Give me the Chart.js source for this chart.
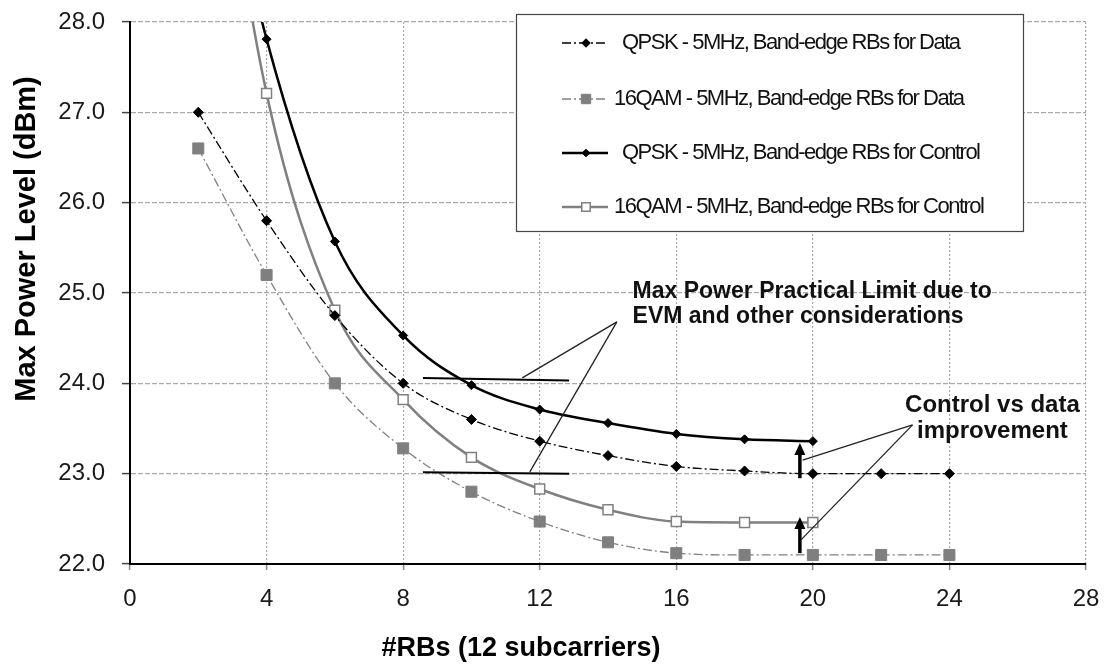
<!DOCTYPE html>
<html><head><meta charset="utf-8">
<script src="https://cdn.jsdelivr.net/npm/chart.js@4.4.1/dist/chart.umd.min.js"></script>
<style>html,body{margin:0;padding:0;background:#fff;}#wrap{width:1104px;height:668px;}</style>
</head><body><div id="wrap"><canvas id="c" width="1104" height="668"></canvas></div>
<script>
// ---- data ----
const rbs = [2, 4, 6, 8, 10, 12, 14, 16, 18, 20, 22, 24];
const qpskData = [27.0, 25.8, 24.75, 24.0, 23.6, 23.36, 23.2, 23.08, 23.03, 23.0, 23.0, 23.0];
const qam16Data = [26.6, 25.2, 24.0, 23.28, 22.8, 22.47, 22.24, 22.12, 22.1, 22.1, 22.1, 22.1];
const qpskControl = [31.2, 27.81, 25.57, 24.53, 23.98, 23.71, 23.56, 23.44, 23.38, 23.36, null, null];
const qam16Control = [31.8, 27.21, 24.81, 23.82, 23.18, 22.83, 22.6, 22.47, 22.46, 22.46, null, null];
const seriesLabels = [
  'QPSK - 5MHz, Band-edge RBs for Data',
  '16QAM - 5MHz, Band-edge RBs for Data',
  'QPSK - 5MHz, Band-edge RBs for Control',
  '16QAM - 5MHz, Band-edge RBs for Control'
];
const xTicks = [0, 4, 8, 12, 16, 20, 24, 28];
const yTicks = [22, 23, 24, 25, 26, 27, 28];
const xTitle = '#RBs (12 subcarriers)';
const yTitle = 'Max Power Level (dBm)';
const noteLimit = ['Max Power Practical Limit due to', 'EVM and other considerations'];
const noteImprove = ['Control vs data', 'improvement'];
// annotation geometry in data units
const limitLines = [[8.58, 24.06, 12.86, 24.03], [8.58, 23.015, 12.86, 23.0]];
const limitPointer = {apex: [14.26, 24.68], ends: [[11.49, 24.06], [11.71, 23.02]]};
const improvePointer = {apex: [22.92, 23.54], ends: [[19.70, 23.15], [19.66, 22.27]]};
const improveArrows = [[19.62, 22.95, 23.34], [19.62, 22.12, 22.52]];
const limitTextAt = [[14.72, 25.01], [14.72, 24.74]];
const improveTextAt = [[25.26, 23.76], [25.26, 23.465]];

const pts = arr => rbs.map((x, i) => ({x, y: arr[i]}));
const DASHDOT = [9, 3, 2, 3];

const datasets = [
  {label: seriesLabels[0], data: pts(qpskData), borderColor: '#000', backgroundColor: '#000',
   borderWidth: 1.3, borderDash: DASHDOT, pointStyle: 'rectRot', pointRadius: 5, pointBorderWidth: 1,
   pointBackgroundColor: '#000', pointBorderColor: '#000'},
  {label: seriesLabels[1], data: pts(qam16Data), borderColor: '#808080', backgroundColor: '#7f7f7f',
   borderWidth: 1.3, borderDash: DASHDOT, pointStyle: 'rect', pointRadius: 7.8, pointBorderWidth: 1,
   pointBackgroundColor: '#7f7f7f', pointBorderColor: '#7f7f7f'},
  {label: seriesLabels[2], data: pts(qpskControl), borderColor: '#000', backgroundColor: '#000',
   borderWidth: 2.5, pointStyle: 'rectRot', pointRadius: 4.5, pointBorderWidth: 1,
   pointBackgroundColor: '#000', pointBorderColor: '#000'},
  {label: seriesLabels[3], data: pts(qam16Control), borderColor: '#808080', backgroundColor: '#fff',
   borderWidth: 2.5, pointStyle: 'rect', pointRadius: 7, pointBorderWidth: 1.5,
   pointBackgroundColor: '#fff', pointBorderColor: '#808080'}
];
datasets.forEach(d => { d.cubicInterpolationMode = 'monotone'; d.fill = false; d.spanGaps = false; });

const FONT = '"Liberation Sans", Arial, sans-serif';

const extras = {
  id: 'extras',
  afterDatasetsDraw(chart) {
    const ctx = chart.ctx, xs = chart.scales.x, ys = chart.scales.y;
    const px = v => xs.getPixelForValue(v), py = v => ys.getPixelForValue(v);
    ctx.save();
    // limit lines
    ctx.strokeStyle = '#000'; ctx.lineWidth = 2; ctx.setLineDash([]);
    limitLines.forEach(l => { ctx.beginPath(); ctx.moveTo(px(l[0]), py(l[1])); ctx.lineTo(px(l[2]), py(l[3])); ctx.stroke(); });
    // pointers
    ctx.lineWidth = 1.3; ctx.strokeStyle = '#222';
    [limitPointer, improvePointer].forEach(p => {
      p.ends.forEach(e => { ctx.beginPath(); ctx.moveTo(px(p.apex[0]), py(p.apex[1])); ctx.lineTo(px(e[0]), py(e[1])); ctx.stroke(); });
    });
    // arrows
    improveArrows.forEach(a => {
      const x = px(a[0]), y0 = py(a[1]), y1 = py(a[2]);
      ctx.strokeStyle = '#000'; ctx.lineWidth = 3.5;
      ctx.beginPath(); ctx.moveTo(x, y0); ctx.lineTo(x, y1 + 8); ctx.stroke();
      ctx.fillStyle = '#000';
      ctx.beginPath(); ctx.moveTo(x, y1); ctx.lineTo(x - 5.5, y1 + 12); ctx.lineTo(x + 5.5, y1 + 12); ctx.closePath(); ctx.fill();
    });
    // texts
    ctx.fillStyle = '#111'; ctx.textBaseline = 'middle';
    ctx.font = 'bold 23px ' + FONT; ctx.textAlign = 'left';
    noteLimit.forEach((t, i) => ctx.fillText(t, px(limitTextAt[i][0]), py(limitTextAt[i][1])));
    ctx.font = 'bold 24px ' + FONT; ctx.textAlign = 'center';
    noteImprove.forEach((t, i) => ctx.fillText(t, px(improveTextAt[i][0]), py(improveTextAt[i][1])));
    ctx.restore();
  },
  afterDraw(chart) {
    const ctx = chart.ctx;
    ctx.save();
    // legend box
    const bx = 516, by = 14, bw = 507, bh = 217;
    ctx.fillStyle = '#fff'; ctx.fillRect(bx, by, bw, bh);
    ctx.strokeStyle = '#444'; ctx.lineWidth = 1.2; ctx.setLineDash([]);
    ctx.strokeRect(bx + 0.5, by + 0.5, bw, bh);
    const rowY = [43, 99, 153, 207];
    chart.data.datasets.forEach((d, i) => {
      const y = rowY[i];
      ctx.save();
      ctx.strokeStyle = d.borderColor; ctx.lineWidth = d.borderWidth;
      ctx.setLineDash(d.borderDash || []);
      ctx.beginPath(); ctx.moveTo(562, y); ctx.lineTo(608, y); ctx.stroke();
      ctx.setLineDash([]);
      ctx.fillStyle = d.pointBackgroundColor; ctx.strokeStyle = d.pointBorderColor; ctx.lineWidth = d.pointBorderWidth;
      Chart.helpers.drawPoint(ctx, {pointStyle: d.pointStyle, radius: d.pointRadius * 0.85, rotation: 0, borderWidth: d.pointBorderWidth}, 586, y);
      ctx.restore();
      ctx.fillStyle = '#111'; ctx.font = '22px ' + FONT; ctx.textAlign = 'left'; ctx.textBaseline = 'middle';
      try { ctx.letterSpacing = '-1.5px'; } catch (e) {}
      ctx.fillText(d.label, i % 2 === 0 ? 622 : 614, y);
      try { ctx.letterSpacing = '0px'; } catch (e) {}
    });
    // axis titles
    ctx.fillStyle = '#000'; ctx.textAlign = 'center'; ctx.textBaseline = 'middle';
    ctx.font = 'bold 27px ' + FONT;
    ctx.fillText(xTitle, 521, 649);
    ctx.translate(27, 239); ctx.rotate(-Math.PI / 2);
    ctx.font = 'bold 29px ' + FONT;
    ctx.fillText(yTitle, 0, 0);
    ctx.restore();
  }
};

new Chart(document.getElementById('c'), {
  type: 'line',
  data: {datasets},
  options: {
    responsive: false, animation: false, devicePixelRatio: 1,
    layout: {padding: {top: 22, right: 18, left: 0, bottom: 0}},
    plugins: {legend: {display: false}, tooltip: {enabled: false}},
    scales: {
      x: {
        type: 'linear', min: xTicks[0], max: xTicks[xTicks.length - 1],
        afterFit: s => { s.height = 104; s.paddingLeft = 0; s.paddingRight = 0; },
        afterBuildTicks: s => { s.ticks = xTicks.map(v => ({value: v})); },
        ticks: {font: {size: 24, family: FONT}, color: '#1a1a1a', padding: 15, callback: v => String(v), maxRotation: 0},
        grid: {color: '#aaaaaa', lineWidth: 1.2, tickLength: 6, tickColor: '#888', tickWidth: 1.5},
        border: {display: true, color: '#000', width: 2, dash: [2, 2]}
      },
      y: {
        min: yTicks[0], max: yTicks[yTicks.length - 1],
        afterFit: s => { s.width = 130; s.paddingTop = 0; s.paddingBottom = 0; },
        afterBuildTicks: s => { s.ticks = yTicks.map(v => ({value: v})); },
        ticks: {font: {size: 24, family: FONT}, color: '#1a1a1a', padding: 17, callback: v => Number(v).toFixed(1)},
        grid: {color: '#aaaaaa', lineWidth: 1.2, tickLength: 8, tickColor: '#444', tickWidth: 1.5},
        border: {display: true, color: '#000', width: 2, dash: [5, 2]}
      }
    }
  },
  plugins: [extras]
});
</script>
</body></html>
